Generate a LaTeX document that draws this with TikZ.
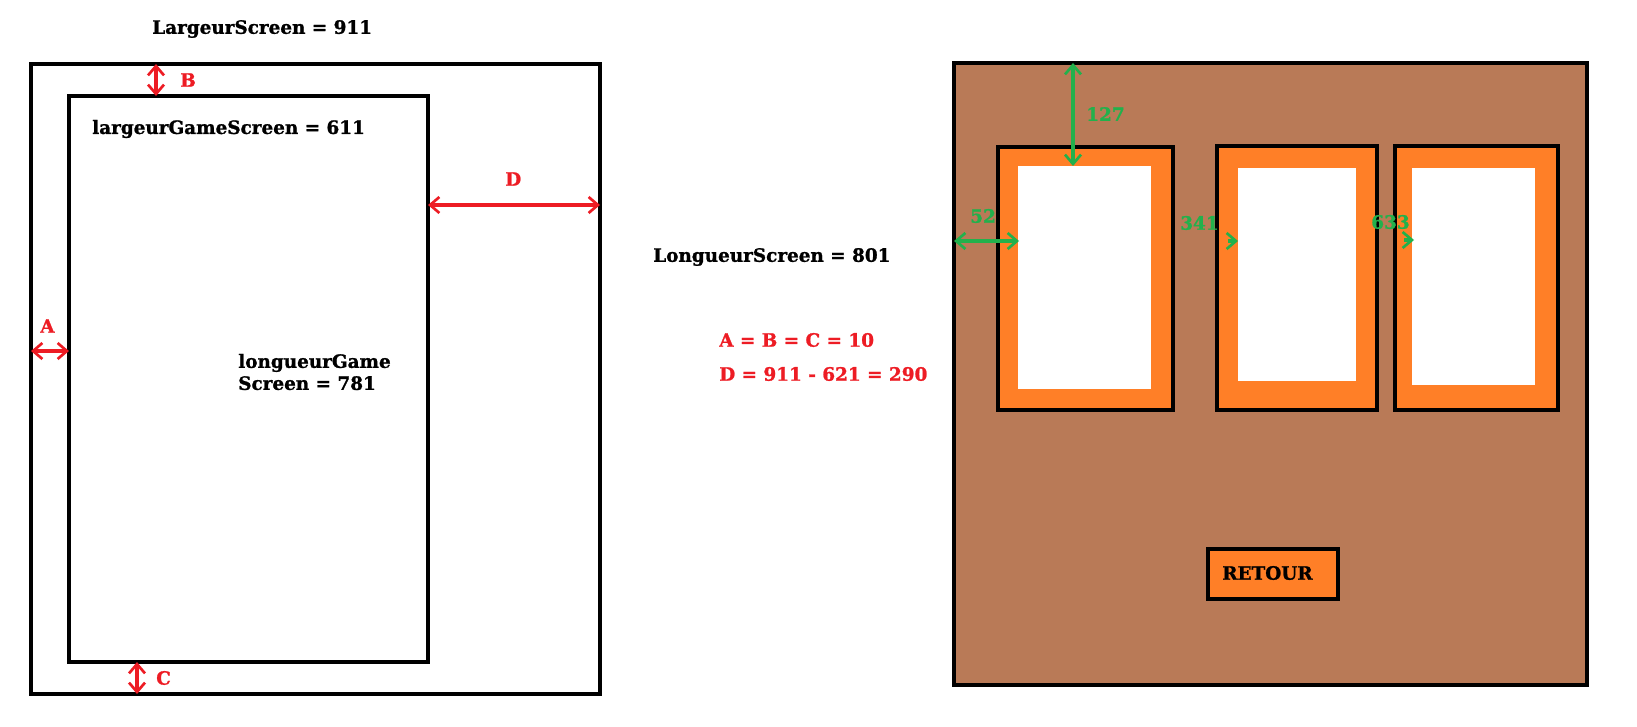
\documentclass[tikz,border=0pt]{standalone}
\usepackage{fontspec}
\setmainfont{DejaVu Serif}[BoldFeatures={FakeBold=1.2}]
\usetikzlibrary{arrows.meta,positioning}
\definecolor{paintred}{HTML}{ED1C24}
\definecolor{paintgreen}{HTML}{22B14C}
\definecolor{paintorange}{HTML}{FF7F27}
\definecolor{paintbrown}{HTML}{B97A57}

\begin{document}
\begin{tikzpicture}[x=0.75pt, y=-0.75pt,
  frame/.style={draw=black, line width=2.3pt},
  card/.style={draw=black, fill=paintorange, line width=2.3pt},
  txt/.style={font=\bfseries\fontsize{13.8}{16.5}\selectfont, inner sep=0pt, anchor=west},
  redtxt/.style={txt, text=paintred},
  greentxt/.style={txt, text=paintgreen},
  barb/.tip={Straight Barb[length=7pt, width=12pt, line width=2pt]},
  redarrow/.style={draw=paintred, line width=2.3pt, barb-barb},
  greenarrow/.style={draw=paintgreen, line width=2.3pt, barb-barb},
  greenhead/.style={draw=paintgreen, line width=2.3pt, -barb},
]
  \useasboundingbox (0,0) rectangle (1637,727);

  % Left: screen and game screen
  \draw[frame] (31,64) rectangle (600,694);
  \draw[frame] (69,96) rectangle (428,662);
  \coordinate (btop) at (156,64);   \coordinate (bbot) at (156,96);
  \coordinate (ctop) at (137,662);  \coordinate (cbot) at (137,694);
  \coordinate (aleft) at (31,351);  \coordinate (aright) at (69,351);
  \coordinate (dleft) at (428,205); \coordinate (dright) at (600,205);
  \draw[redarrow] (btop) -- (bbot);
  \draw[redarrow] (ctop) -- (cbot);
  \draw[redarrow] (aleft) -- (aright);
  \draw[redarrow] (dleft) -- (dright);

  \node[redtxt] (blabel) at (180,80) {B};
  \node[redtxt] (clabel) at (156,678) {C};
  \node[redtxt] (alabel) at (40,326) {A};
  \node[redtxt] (dlabel) at (505,179) {D};

  \node[txt] (largeur) at (152,29) {LargeurScreen = 911};
  \node[txt] (largeurgame) at (92,129) {largeurGameScreen = 611};
  \node[txt, align=left] (longueurgame) at (238,372) {longueurGame\\Screen = 781};

  % Middle texts
  \node[txt] (longueur) at (653,257) {LongueurScreen = 801};
  \node[redtxt] (abc) at (719,340) {A = B = C = 10};
  \node[redtxt] (dvalue) at (719,374) {D = 911 - 621 = 290};

  % Right: menu screen
  \draw[frame, fill=paintbrown] (954,63) rectangle (1587,685);
  \draw[card] (998,147) rectangle (1173,410);
  \fill[white] (1018,166) rectangle (1151,389);
  \draw[card] (1217,146) rectangle (1377,410);
  \fill[white] (1238,168) rectangle (1356,381);
  \draw[card] (1395,146) rectangle (1558,410);
  \fill[white] (1412,168) rectangle (1535,385);

  \draw[card] (1208,549) rectangle (1338,599);
  \node[txt] (retour) at (1222,573) {RETOUR};

  \coordinate (topedge) at (1073,63);    \coordinate (cardtop) at (1073,166);
  \coordinate (leftedge) at (954,241);   \coordinate (cardleft) at (1019,241);
  \coordinate (secondfrom) at (1228,241); \coordinate (secondleft) at (1238,241);
  \coordinate (thirdfrom) at (1404,240);  \coordinate (thirdleft) at (1414,240);
  \draw[greenarrow] (topedge) -- (cardtop);
  \draw[greenarrow] (leftedge) -- (cardleft);
  \draw[greenhead] (secondfrom) -- (secondleft);
  \draw[greenhead] (thirdfrom) -- (thirdleft);

  \node[greentxt] (toplabel) at (1086,114) {127};
  \node[greentxt] (leftlabel) at (970,216) {52};
  \node[greentxt] (secondlabel) at (1180,223) {341};
  \node[greentxt] (thirdlabel) at (1371,222) {633};
\end{tikzpicture}
\end{document}
